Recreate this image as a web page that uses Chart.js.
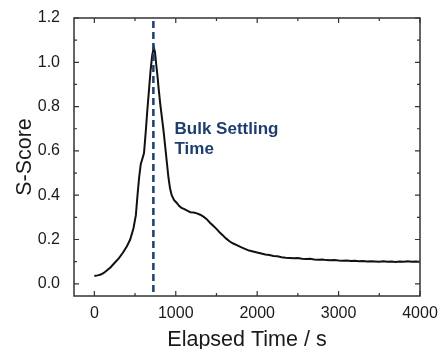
<!doctype html><html lang="en"><head>
<meta charset="UTF-8"><title>S-Score vs Elapsed Time</title>
<script src="https://cdn.jsdelivr.net/npm/chart.js@4"></script>
<style>
 body{margin:0;background:#fff}
 canvas{display:block}
</style></head><body>
<canvas id="chart" width="439" height="349"></canvas>
<script>
// ----- data -----
const times = [0,40,80,120,160,200,250,300,350,400,440,480,510,530,550,570,590,610,630,650,670,690,710,730,745,760,775,790,810,830,850,870,890,910,930,950,980,1010,1040,1070,1100,1140,1180,1220,1260,1300,1340,1380,1420,1460,1500,1540,1580,1620,1660,1700,1750,1800,1850,1900,1950,2000,2050,2100,2150,2200,2250,2300,2350,2400,2450,2500,2550,2600,2650,2700,2750,2800,2850,2900,2950,3000,3050,3100,3150,3200,3250,3300,3350,3400,3450,3500,3550,3600,3650,3700,3750,3800,3850,3900,3950,4000];
const scores = [0.035,0.038,0.042,0.050,0.062,0.075,0.095,0.115,0.140,0.170,0.200,0.250,0.310,0.400,0.480,0.540,0.565,0.590,0.680,0.780,0.870,0.960,1.030,1.068,1.045,0.990,0.940,0.880,0.810,0.750,0.690,0.620,0.550,0.480,0.430,0.400,0.378,0.366,0.352,0.343,0.338,0.330,0.323,0.322,0.318,0.312,0.303,0.292,0.276,0.262,0.248,0.232,0.218,0.204,0.192,0.183,0.175,0.166,0.158,0.150,0.146,0.141,0.137,0.132,0.130,0.126,0.124,0.120,0.118,0.117,0.115,0.116,0.113,0.112,0.113,0.110,0.109,0.110,0.107,0.106,0.107,0.105,0.104,0.105,0.103,0.104,0.102,0.103,0.101,0.102,0.101,0.100,0.102,0.100,0.101,0.099,0.101,0.100,0.102,0.100,0.101,0.100];

const xTicks = [0,1000,2000,3000,4000];
const xMinor = [500,1500,2500,3500];
const yTicks = [0,0.2,0.4,0.6,0.8,1.0,1.2];
const yMinor = [0.1,0.3,0.5,0.7,0.9,1.1];

const settleTime = 725;                 // dashed marker
const noteLines = ['Bulk Settling','Time'];
const noteAt = {x:985, y:[0.675,0.585]};

const ink = '#1a1a1a', navy = '#1c3f6e';

// frame, inward ticks on all 4 sides, dashed marker + note
const decor = {
  id:'decor',
  afterDatasetsDraw(chart){
    const {ctx, chartArea:a, scales:{x,y}} = chart;
    ctx.save();
    // dashed settling line
    const px = x.getPixelForValue(settleTime);
    ctx.strokeStyle = navy; ctx.lineWidth = 2.5; ctx.setLineDash([7,4]);
    ctx.beginPath(); ctx.moveTo(px,a.top+3); ctx.lineTo(px,a.bottom); ctx.stroke();
    ctx.setLineDash([]);
    // frame
    ctx.strokeStyle = '#333'; ctx.lineWidth = 1.5;
    ctx.strokeRect(a.left,a.top,a.right-a.left,a.bottom-a.top);
    // ticks
    const tick = (vals,len,horiz)=>{
      vals.forEach(v=>{
        if(horiz){
          const p = x.getPixelForValue(v);
          ctx.moveTo(p,a.bottom); ctx.lineTo(p,a.bottom-len);
          ctx.moveTo(p,a.top);    ctx.lineTo(p,a.top+len);
        } else {
          const p = y.getPixelForValue(v);
          ctx.moveTo(a.left,p);  ctx.lineTo(a.left+len,p);
          ctx.moveTo(a.right,p); ctx.lineTo(a.right-len,p);
        }
      });
    };
    ctx.lineWidth = 1.2; ctx.beginPath();
    tick(xTicks,5,true); tick(xMinor,3,true);
    tick(yTicks,5,false); tick(yMinor,3,false);
    ctx.stroke();
    // annotation
    ctx.fillStyle = navy; ctx.font = 'bold 17px "Liberation Sans", Arial, sans-serif';
    ctx.textAlign = 'left'; ctx.textBaseline = 'alphabetic';
    noteLines.forEach((t,i)=>ctx.fillText(t, x.getPixelForValue(noteAt.x), y.getPixelForValue(noteAt.y[i])));
    ctx.restore();
  }
};

const tickFont = {family:'"Liberation Sans", Arial, sans-serif', size:16};
const titleFont = {family:'"Liberation Sans", Arial, sans-serif', size:21.5, lineHeight:1};

new Chart(document.getElementById('chart'),{
  type:'line',
  data:{datasets:[{
    data: times.map((t,i)=>({x:t,y:scores[i]})),
    borderColor:'#111', borderWidth:2, pointRadius:0, tension:0, fill:false
  }]},
  options:{
    responsive:false, animation:false,
    layout:{padding:{top:18,right:19,left:0,bottom:0}},
    plugins:{legend:{display:false}, tooltip:{enabled:false}},
    scales:{
      x:{type:'linear', min:-250, max:4000,
         afterBuildTicks:s=>{s.ticks = xTicks.map(v=>({value:v}));},
         afterFit:s=>{s.height = 53;},
         grid:{display:false}, border:{display:false},
         ticks:{color:ink, font:tickFont, padding:0, maxRotation:0, callback:v=>String(v)},
         title:{display:true, text:'Elapsed Time / s', color:ink, font:titleFont, padding:{top:0,bottom:-2}}},
      y:{min:-0.055, max:1.2,
         afterBuildTicks:s=>{s.ticks = yTicks.map(v=>({value:v}));},
         afterFit:s=>{s.width = 74;},
         grid:{display:false}, border:{display:false},
         ticks:{color:ink, font:tickFont, padding:6, callback:v=>v.toFixed(1)},
         title:{display:true, text:'S-Score', color:ink, font:titleFont, padding:{top:14,bottom:0}}}
    }
  },
  plugins:[decor]
});
</script>
</body></html>
